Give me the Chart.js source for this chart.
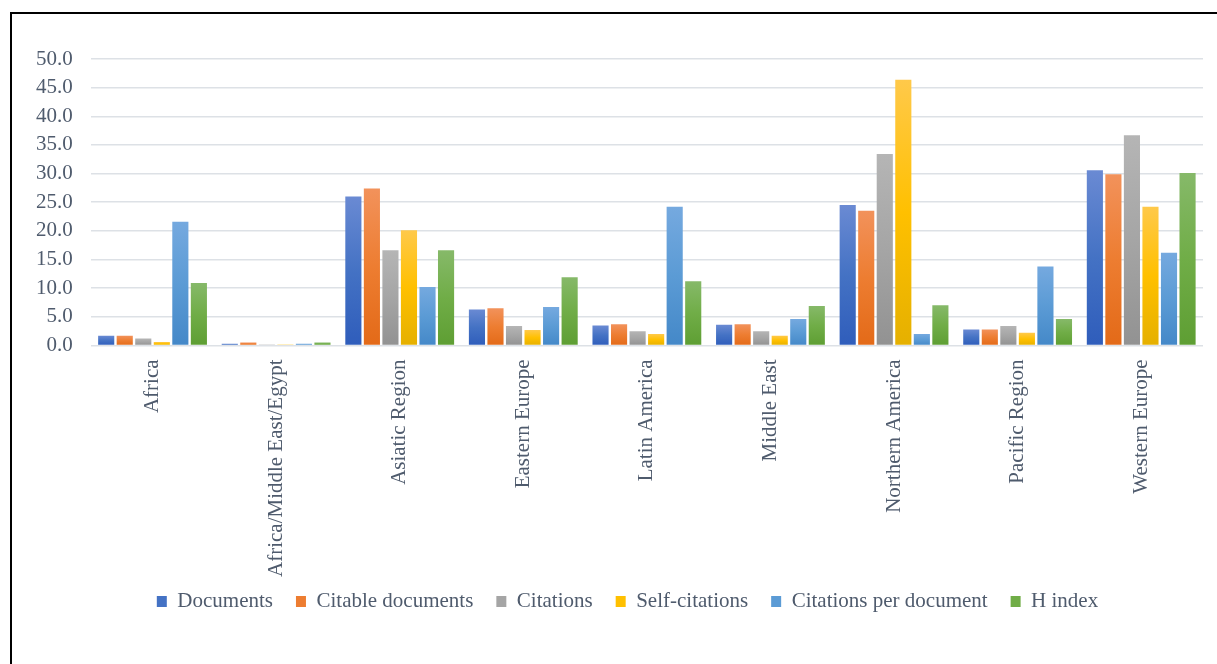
<!DOCTYPE html>
<html>
<head>
<meta charset="utf-8">
<script src="https://cdn.jsdelivr.net/npm/chart.js@4"></script>
<style>
  html, body { margin: 0; padding: 0; background: #fff; }
  #wrap { position: relative; width: 1217px; height: 664px; overflow: hidden; }
  #frame { position: absolute; left: 10px; top: 12px; width: 1300px; height: 800px;
           border-left: 2px solid #000; border-top: 2px solid #000; }
  #myChart { position: absolute; left: 0; top: 0; }
</style>
</head>
<body>
<div id="wrap">
  <div id="frame"></div>
  <canvas id="myChart" width="1217" height="664"></canvas>
</div>
<script>
const regions = ["Africa", "Africa/Middle East/Egypt", "Asiatic Region", "Eastern Europe", "Latin America",
	"Middle East", "Northern America", "Pacific Region", "Western Europe"];

const documents = [1.7, 0.3, 26.0, 6.3, 3.5, 3.6, 24.5, 2.8, 30.6];
const citableDocuments = [1.7, 0.5, 27.4, 6.5, 3.7, 3.7, 23.5, 2.8, 29.9];
const citations = [1.2, 0.1, 16.6, 3.4, 2.5, 2.5, 33.4, 3.4, 36.7];
const selfCitations = [0.6, 0.1, 20.1, 2.7, 2.0, 1.7, 46.4, 2.2, 24.2];
const citationsPerDoc = [21.6, 0.3, 10.2, 6.7, 24.2, 4.6, 2.0, 13.8, 16.2];
const hIndex = [10.9, 0.5, 16.6, 11.9, 11.2, 6.9, 7.0, 4.6, 30.1];

// top, middle, bottom of each bar's gradient
const palette = {
	documents: ["#6A8AD3", "#4472C4", "#2F5DBB"],
	citable: ["#F2925B", "#ED7D31", "#E36A18"],
	citations: ["#B5B5B5", "#A5A5A5", "#929292"],
	self: ["#FFC94A", "#FFC000", "#E5B000"],
	cpd: ["#75A9DF", "#5B9BD5", "#4488C8"],
	h: ["#86B969", "#70AD47", "#5E9E33"],
};

function barFill(cols) {
	return function (context) {
		const chart = context.chart;
		if (!chart.chartArea || context.parsed === undefined) return cols[1];
		const y = chart.scales.y;
		const top = y.getPixelForValue(context.parsed.y);
		const bottom = y.getPixelForValue(0);
		if (!isFinite(top) || bottom - top < 1) return cols[1];
		const g = chart.ctx.createLinearGradient(0, top, 0, bottom);
		g.addColorStop(0, cols[0]);
		g.addColorStop(0.5, cols[1]);
		g.addColorStop(1, cols[2]);
		return g;
	};
}

function series(label, data, cols) {
	return {
		label: label,
		data: data,
		backgroundColor: barFill(cols),
		borderWidth: 0,
		categoryPercentage: 0.9,
		barPercentage: 0.87,
	};
}

// nudge the legend box to where the original sits
const legendShift = {
	id: "legendShift",
	afterLayout(chart) {
		const lg = chart.legend;
		if (!lg) return;
		lg.top -= 23; lg.bottom -= 23;
		lg.left += 17; lg.right += 17;
	}
};

const textColor = "#4F5B6D";
const serif = "'Liberation Serif', 'Times New Roman', serif";

const barCanvas = document.getElementById("myChart");

const myChart = new Chart(barCanvas, {
	type: "bar",
	plugins: [legendShift],
	data: {
		labels: regions,
		datasets: [
			series("Documents", documents, palette.documents),
			series("Citable documents", citableDocuments, palette.citable),
			series("Citations", citations, palette.citations),
			series("Self-citations", selfCitations, palette.self),
			series("Citations per document", citationsPerDoc, palette.cpd),
			series("H index", hIndex, palette.h),
		],
	},
	options: {
		responsive: false,
		animation: false,
		layout: {
			padding: { top: 59, left: 18, right: 14, bottom: 19 }
		},
		plugins: {
			legend: {
				position: "bottom",
				labels: {
					boxWidth: 10,
					boxHeight: 11,
					padding: 23,
					color: textColor,
					font: { family: serif, size: 21 },
					generateLabels: function (chart) {
						const items = Chart.defaults.plugins.legend.labels.generateLabels(chart);
						const keys = ["documents", "citable", "citations", "self", "cpd", "h"];
						items.forEach(function (it, i) {
							it.fillStyle = palette[keys[i]][1];
							it.strokeStyle = palette[keys[i]][1];
							it.lineWidth = 0;
						});
						return items;
					}
				}
			},
			tooltip: { enabled: false }
		},
		scales: {
			x: {
				grid: { display: false, drawTicks: false },
				border: { display: false },
				ticks: {
					color: textColor,
					font: { family: serif, size: 21 },
					minRotation: 90,
					maxRotation: 90,
					padding: 14,
					autoSkip: false
				}
			},
			y: {
				min: 0,
				max: 50,
				grid: { color: "#DDE1E6", lineWidth: 1.5, drawTicks: false },
				border: { display: false },
				ticks: {
					stepSize: 5,
					autoSkip: false,
					padding: 18,
					color: textColor,
					font: { family: serif, size: 21 },
					callback: function (v) { return Number(v).toFixed(1); }
				}
			}
		}
	},
});
</script>
</body>
</html>
